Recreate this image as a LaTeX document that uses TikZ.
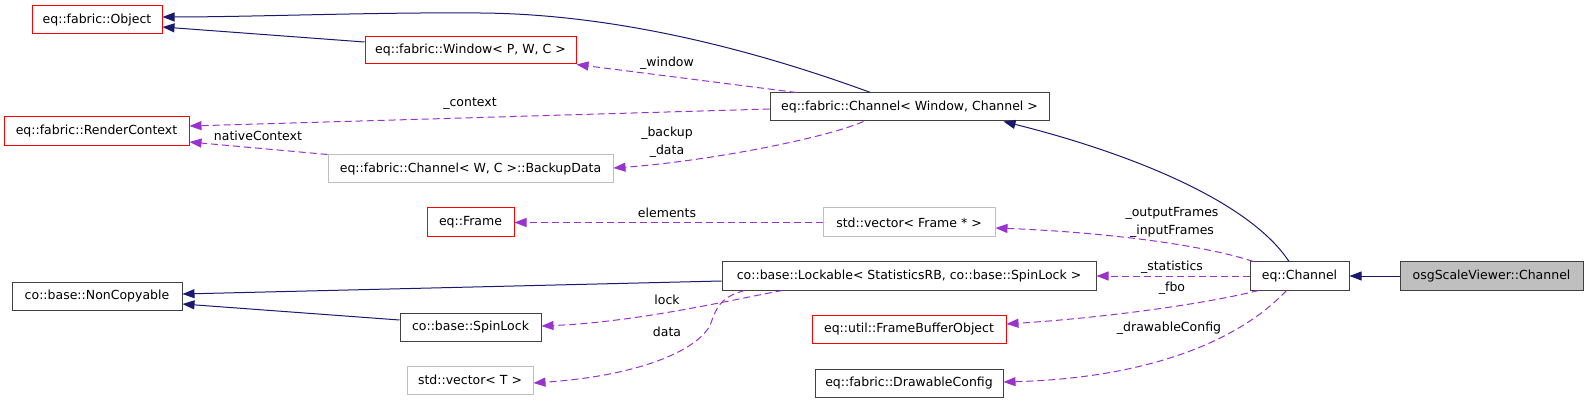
\documentclass[tikz,border=0pt]{standalone}
\usepackage{fontspec}
\setmainfont{DejaVu Sans}
\usetikzlibrary{arrows.meta}
\definecolor{navy}{HTML}{191970}
\definecolor{orchid}{HTML}{9A32CD}
\definecolor{gsev}{HTML}{BFBFBF}
\definecolor{bdr}{HTML}{404040}
\tikzset{
 box/.style={draw, line width=1pt, fill=white, inner sep=0pt, font=\fontsize{12.5}{15}\selectfont, anchor=center},
 redbox/.style={box, draw=red},
 graybox/.style={box, draw=gsev},
 blackbox/.style={box, draw=bdr},
 inh/.style={draw=navy, line width=1pt, -{Triangle[length=12pt,width=9pt]}},
 use/.style={draw=orchid, line width=1pt, dash pattern=on 7pt off 4pt, -{Triangle[length=12pt,width=9pt]}},
 lbl/.style={font=\fontsize{12.5}{18}\selectfont, inner sep=0pt, align=center},
}
\begin{document}
\begin{tikzpicture}[x=1pt,y=-1pt]
\useasboundingbox[fill=white] (0,0) rectangle (1589,403);
\node[redbox, minimum width=130pt, minimum height=28pt] (obj) at (97,20) {eq::fabric::Object};
\node[redbox, minimum width=211pt, minimum height=27pt] (win) at (470.5,50.5) {eq::fabric::Window< P, W, C >};
\node[redbox, minimum width=185pt, minimum height=29pt] (rc) at (96.5,131.5) {eq::fabric::RenderContext};
\node[graybox, minimum width=285pt, minimum height=28pt] (bkp) at (470.5,169) {eq::fabric::Channel< W, C >::BackupData};
\node[blackbox, minimum width=279pt, minimum height=28pt] (fch) at (909.5,107) {eq::fabric::Channel< Window, Channel >};
\node[redbox, minimum width=87pt, minimum height=29pt] (frame) at (470.5,222.5) {eq::Frame};
\node[graybox, minimum width=172pt, minimum height=29pt] (vfr) at (909,222.5) {std::vector< Frame * >};
\node[blackbox, minimum width=170pt, minimum height=28pt] (nc) at (97,296) {co::base::NonCopyable};
\node[blackbox, minimum width=374pt, minimum height=28pt] (lock) at (909,276) {co::base::Lockable< StatisticsRB, co::base::SpinLock >};
\node[blackbox, minimum width=141pt, minimum height=28pt] (spin) at (470.5,327) {co::base::SpinLock};
\node[graybox, minimum width=126pt, minimum height=28pt] (vt) at (470,380) {std::vector< T >};
\node[redbox, minimum width=194pt, minimum height=28pt] (fbo) at (909,329) {eq::util::FrameBufferObject};
\node[blackbox, minimum width=188pt, minimum height=28pt] (dc) at (909,383) {eq::fabric::DrawableConfig};
\node[blackbox, minimum width=99pt, minimum height=28pt] (ech) at (1299.5,276) {eq::Channel};
\node[blackbox, fill=gsev, minimum width=183pt, minimum height=28pt] (osg) at (1491.5,276) {osgScaleViewer::Channel};
% inheritance
\draw[inh] ([xshift=101pt]fch.north west) .. controls (760,52) and (620,14) .. (480,13) .. controls (380,12) and (250,17) .. ([yshift=3pt]obj.east);
\draw[inh] ([yshift=8.5pt]win.west) -- ([yshift=-7pt]obj.east);
\draw[inh] ([xshift=-10.5pt]ech.north) .. controls (1245,195) and (1110,148) .. ([xshift=234pt]fch.south west);
\draw[inh] (osg.west) -- (ech.east);
\draw[inh] ([yshift=-5pt]lock.west) -- ([yshift=2pt]nc.east);
\draw[inh] ([yshift=7pt]spin.west) -- ([yshift=-8pt]nc.east);
% usage
\draw[use] ([xshift=27pt]fch.north west) -- (win.south east);
\draw[use] ([yshift=-2pt]fch.west) -- ([yshift=5.5pt]rc.east);
\draw[use] ([xshift=94pt]fch.south west) .. controls (820,140) and (700,162) .. ([yshift=1pt]bkp.east);
\draw[use] (bkp.north west) -- ([yshift=-10.5pt]rc.east);
\draw[use] (vfr.west) -- (frame.east);
\draw[use] ([xshift=4pt]ech.north west) .. controls (1200,244) and (1100,232) .. ([yshift=-5.5pt]vfr.east);
\draw[use] (ech.west) -- (lock.east);
\draw[use] ([xshift=9pt]ech.south west) .. controls (1200,305) and (1100,318) .. ([yshift=5pt]fbo.east);
\draw[use] ([xshift=37pt]ech.south west) .. controls (1240,340) and (1150,378) .. ([yshift=1pt]dc.east);
\draw[use] ([xshift=61pt]lock.south west) .. controls (740,298) and (640,322) .. ([yshift=1pt]spin.east);
\draw[use] ([xshift=23pt]lock.south west) .. controls (725,296) and (718,303) .. (712,320) .. controls (706,345) and (650,375) .. ([yshift=-3pt]vt.east);
% labels
\node[lbl] (l1) at (667,63) {\_window};
\node[lbl] (l2) at (470,104) {\_context};
\node[lbl] (l3) at (667,142) {\_backup\\\_data};
\node[lbl] (l4) at (258,136) {nativeContext};
\node[lbl] (l5) at (667,213) {elements};
\node[lbl] (l6) at (1172,222) {\_outputFrames\\\_inputFrames};
\node[lbl] (l7) at (1172,267) {\_statistics};
\node[lbl] (l8) at (1172,288) {\_fbo};
\node[lbl] (l9) at (1169,328) {\_drawableConfig};
\node[lbl] (l10) at (667,300) {lock};
\node[lbl] (l11) at (667,332) {data};
\end{tikzpicture}
\end{document}
